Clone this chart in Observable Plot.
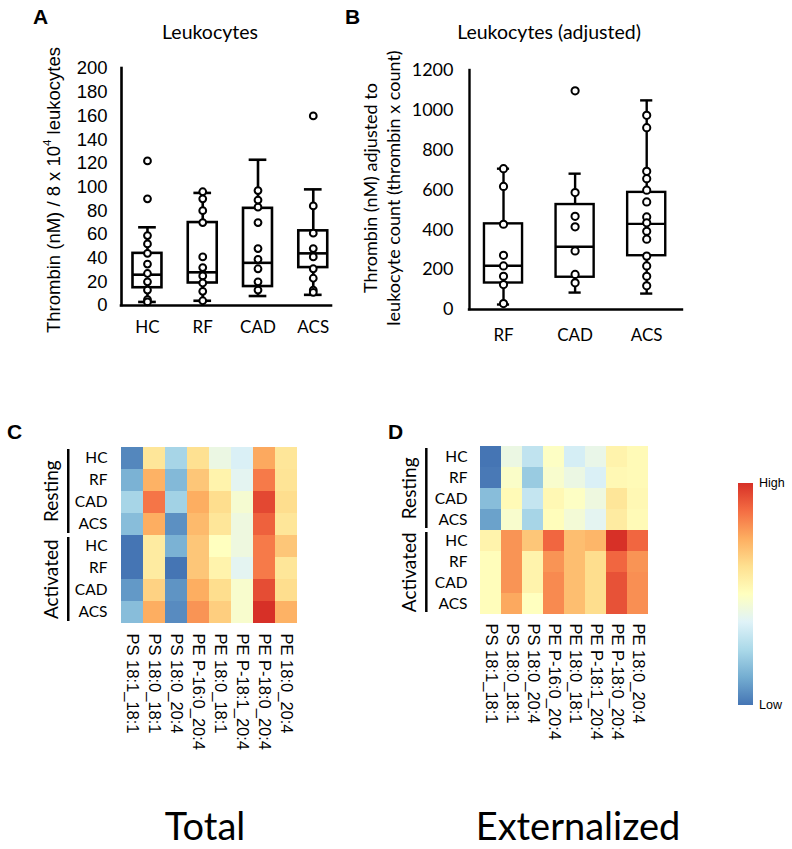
<!DOCTYPE html>
<html>
<head>
<meta charset="utf-8">
<script src="https://cdn.jsdelivr.net/npm/d3@7"></script>
<script src="https://cdn.jsdelivr.net/npm/@observablehq/plot@0.6"></script>
<style>
  html, body { margin: 0; padding: 0; background: #fff; }
  #root { position: relative; width: 792px; height: 849px; overflow: hidden; color: #000; }
  #root > svg, #root > figure { position: absolute; margin: 0; }
</style>
</head>
<body>
<div id="root"></div>
<script>
// ---------------- DATA ----------------
// Panel A: thrombin per leukocytes
const groupsA = ["HC", "RF", "CAD", "ACS"];
const ticksA = [0, 20, 40, 60, 80, 100, 120, 140, 160, 180, 200];
const q1A  = [15, 19, 16, 32];
const medA = [26, 28, 36, 44];
const q3A  = [44, 70, 82, 63];
const loA  = [3, 4, 8, 9];
const hiA  = [66, 95, 123, 98];
const ptsA_HC  = [122, 90, 59, 52, 44, 35, 27, 20, 13, 5, 3];
const ptsA_RF  = [96, 90, 80, 70, 41, 32, 25, 19, 12, 4];
const ptsA_CAD = [97, 89, 83, 70, 48, 39, 31, 20, 13];
const ptsA_ACS = [160, 84, 61, 48, 41, 31, 23, 13, 11];

// Panel B: adjusted
const groupsB = ["RF", "CAD", "ACS"];
const ticksB = [0, 200, 400, 600, 800, 1000, 1200];
const q1B  = [133, 162, 270];
const medB = [220, 315, 430];
const q3B  = [430, 527, 588];
const loB  = [25, 85, 80];
const hiB  = [707, 682, 1050];
const ptsB_RF  = [707, 618, 428, 272, 219, 167, 125, 30];
const ptsB_CAD = [1098, 587, 468, 415, 294, 176, 134];
const ptsB_ACS = [975, 913, 694, 657, 599, 540, 465, 435, 393, 353, 268, 219, 167, 119];

// Heatmaps
const lipids = ["PS 18:1_18:1", "PS 18:0_18:1", "PS 18:0_20:4", "PE P-16:0_20:4",
                "PE 18:0_18:1", "PE P-18:1_20:4", "PE P-18:0_20:4", "PE 18:0_20:4"];
const states = ["Resting", "Activated"];
const subjects = ["HC", "RF", "CAD", "ACS"];
// relative level 0 (low) .. 1 (high), rows: Resting HC,RF,CAD,ACS then Activated HC,RF,CAD,ACS
const totalLevels = [
  [0.04, 0.60, 0.24, 0.62, 0.42, 0.36, 0.76, 0.60],
  [0.14, 0.74, 0.16, 0.69, 0.55, 0.39, 0.85, 0.61],
  [0.24, 0.86, 0.23, 0.75, 0.63, 0.46, 0.95, 0.63],
  [0.17, 0.75, 0.06, 0.72, 0.60, 0.43, 0.90, 0.60],
  [0.00, 0.58, 0.14, 0.69, 0.50, 0.43, 0.85, 0.69],
  [0.00, 0.58, 0.00, 0.69, 0.55, 0.39, 0.85, 0.60],
  [0.08, 0.66, 0.07, 0.75, 0.63, 0.47, 0.94, 0.63],
  [0.17, 0.75, 0.05, 0.80, 0.67, 0.47, 1.00, 0.74]
];
const externalizedLevels = [
  [0.00, 0.42, 0.30, 0.49, 0.35, 0.41, 0.55, 0.52],
  [0.01, 0.48, 0.21, 0.47, 0.42, 0.36, 0.53, 0.52],
  [0.17, 0.52, 0.31, 0.53, 0.49, 0.43, 0.60, 0.53],
  [0.10, 0.47, 0.24, 0.51, 0.45, 0.39, 0.58, 0.52],
  [0.55, 0.80, 0.69, 0.89, 0.71, 0.73, 1.00, 0.89],
  [0.51, 0.80, 0.55, 0.80, 0.71, 0.63, 0.89, 0.80],
  [0.51, 0.80, 0.55, 0.82, 0.71, 0.63, 0.93, 0.81],
  [0.51, 0.76, 0.50, 0.82, 0.71, 0.63, 0.93, 0.81]
];
const heatPalette = ["#4575b4", "#74add1", "#abd9e9", "#e0f3f8", "#ffffbf",
                     "#fee090", "#fdae61", "#f46d43", "#d73027"];

// ---------------- HELPERS ----------------
const root = document.getElementById("root");
const ARIAL = "Liberation Sans, Arial, sans-serif";
const LATO = "Lato, Carlito, sans-serif";

function place(node, left, top) {
  node.style.left = left + "px";
  node.style.top = top + "px";
  root.appendChild(node);
}

function boxChart({cats, q1, med, q3, lo, hi, pts, ticks, yMax, width, height,
                   marginLeft, marginRight, marginTop, marginBottom, xDomain,
                   boxHalf, capHalf, tickFont, tickSize, tickPad, xFont, xPad,
                   lineW, dotR}) {
  const stats = cats.map((c, i) => ({i, q1: q1[i], med: med[i], q3: q3[i], lo: lo[i], hi: hi[i]}));
  const points = pts.flatMap((arr, i) => arr.map(v => ({i, v})));
  return Plot.plot({
    width, height, marginLeft, marginRight, marginTop, marginBottom,
    style: {background: "transparent", color: "#000", overflow: "visible"},
    x: {domain: xDomain, axis: null},
    y: {domain: [0, yMax], axis: null},
    marks: [
      Plot.axisY(ticks, {tickFormat: d => String(d), tickSize: 0, tickPadding: tickPad,
        fontSize: tickSize, fontFamily: tickFont, label: null}),
      Plot.axisX(cats.map((c, i) => i), {tickFormat: i => cats[i], tickSize: 0, tickPadding: xPad,
        fontSize: 17, fontFamily: xFont, label: null}),
      Plot.ruleX(stats, {x: "i", y1: "q3", y2: "hi", strokeWidth: lineW}),
      Plot.ruleX(stats, {x: "i", y1: "lo", y2: "q1", strokeWidth: lineW}),
      Plot.ruleY(stats, {y: "hi", x1: d => d.i - capHalf, x2: d => d.i + capHalf, strokeWidth: lineW}),
      Plot.ruleY(stats, {y: "lo", x1: d => d.i - capHalf, x2: d => d.i + capHalf, strokeWidth: lineW}),
      Plot.rect(stats, {x1: d => d.i - boxHalf, x2: d => d.i + boxHalf, y1: "q1", y2: "q3",
        fill: "none", stroke: "#000", strokeWidth: lineW}),
      Plot.ruleY(stats, {y: "med", x1: d => d.i - boxHalf, x2: d => d.i + boxHalf, strokeWidth: lineW}),
      Plot.dot(points, {x: "i", y: "v", r: dotR, fill: "#fff", stroke: "#000", strokeWidth: 2}),
      Plot.ruleY([0], {strokeWidth: lineW, strokeLinecap: "square"}),
      Plot.ruleX([xDomain[0]], {y1: 0, y2: yMax, strokeWidth: lineW, strokeLinecap: "square"})
    ]
  });
}

const heatInterp = d3.piecewise(d3.interpolateRgb, heatPalette);

function heatmap({levels, width, height, marginLeft, marginRight, marginTop, marginBottom,
                  groupDx, lineDx, labelPad}) {
  const rowKeys = states.flatMap(s => subjects.map(g => s + "|" + g));
  const cells = levels.flatMap((row, r) => row.map((v, c) => ({row: rowKeys[r], lipid: lipids[c], v})));
  const groups = states.map((s, k) => ({
    name: s, mid: rowKeys[k * 4 + 2], first: rowKeys[k * 4], last: rowKeys[k * 4 + 3]
  }));
  const plotH = height - marginTop - marginBottom;
  const half = plotH / rowKeys.length / 2;
  const colW = (width - marginLeft - marginRight) / lipids.length;
  return Plot.plot({
    width, height, marginLeft, marginRight, marginTop, marginBottom,
    style: {background: "transparent", color: "#000", overflow: "visible"},
    x: {domain: lipids, axis: null, padding: 0},
    y: {domain: rowKeys, axis: null, padding: 0},
    color: {type: "linear", domain: [0, 1], interpolate: heatInterp},
    marks: [
      Plot.cell(cells, {x: "lipid", y: "row", fill: "v"}),
      Plot.axisX({tickRotate: 90, tickSize: 0, tickPadding: 8, fontSize: 16.5, fontFamily: ARIAL, label: null}),
      Plot.axisY({tickFormat: k => k.split("|")[1], tickSize: 0, tickPadding: labelPad,
        fontSize: 15.5, fontFamily: LATO, label: null}),
      Plot.text(groups, {x: () => lipids[0], y: "mid", text: "name", dx: groupDx - colW / 2, dy: -half,
        rotate: -90, fontSize: 19, fontFamily: LATO, textAnchor: "middle", lineAnchor: "middle"}),
      Plot.ruleX(groups, {x: () => lipids[0], dx: lineDx - colW / 2, y1: "first", y2: "last",
        strokeWidth: 2.5, insetTop: 2, insetBottom: 2})
    ]
  });
}

// ---------------- PANEL A ----------------
const plotA = boxChart({
  cats: groupsA, q1: q1A, med: medA, q3: q3A, lo: loA, hi: hiA,
  pts: [ptsA_HC, ptsA_RF, ptsA_CAD, ptsA_ACS],
  ticks: ticksA, yMax: 200, width: 400, height: 345,
  marginLeft: 121, marginRight: 69, marginTop: 68, marginBottom: 40,
  xDomain: [-0.47, 3.33], boxHalf: 0.262, capHalf: 0.16,
  tickFont: ARIAL, tickSize: 18.5, tickPad: 14, xFont: LATO, xPad: 15, lineW: 2.6, dotR: 3.4
});
place(plotA, 0, 0);

// ---------------- PANEL B ----------------
const plotB = boxChart({
  cats: groupsB, q1: q1B, med: medB, q3: q3B, lo: loB, hi: hiB,
  pts: [ptsB_RF, ptsB_CAD, ptsB_ACS],
  ticks: ticksB, yMax: 1200, width: 300, height: 350,
  marginLeft: 79, marginRight: 8, marginTop: 70, marginBottom: 41,
  xDomain: [-0.475, 2.5], boxHalf: 0.266, capHalf: 0.085,
  tickFont: LATO, tickSize: 18, tickPad: 16, xFont: LATO, xPad: 19, lineW: 2.4, dotR: 3.6
});
place(plotB, 390, 0);

// ---------------- PANEL C ----------------
const heatC = heatmap({
  levels: totalLevels, width: 310, height: 360,
  marginLeft: 119, marginRight: 11, marginTop: 45, marginBottom: 135,
  groupDx: 50 - 119, lineDx: 66 - 119, labelPad: 12
});
place(heatC, 0, 400);

// ---------------- PANEL D ----------------
const heatD = heatmap({
  levels: externalizedLevels, width: 270, height: 360,
  marginLeft: 88, marginRight: 11, marginTop: 44, marginBottom: 145,
  groupDx: 408 - 478, lineDx: 424 - 478, labelPad: 11
});
place(heatD, 390, 400);

// ---------------- ANNOTATIONS (titles, letters, labels, legend) ----------------
const over = d3.create("svg").attr("width", 792).attr("height", 849)
  .style("pointer-events", "none").style("left", "0px").style("top", "0px");

function txt(x, y, s, {size = 16, family = LATO, weight = "normal", anchor = "middle", rot = 0, baseline = "auto"} = {}) {
  const t = over.append("text")
    .attr("transform", `translate(${x},${y}) rotate(${rot})`)
    .attr("text-anchor", anchor)
    .attr("dominant-baseline", baseline)
    .attr("font-size", size).attr("font-family", family).attr("font-weight", weight)
    .attr("fill", "#000");
  if (typeof s === "string") t.text(s);
  else s(t);
  return t;
}

// panel letters
txt(33, 24, "A", {size: 21, family: ARIAL, weight: "bold", anchor: "start"});
txt(345, 24, "B", {size: 21, family: ARIAL, weight: "bold", anchor: "start"});
txt(7, 439, "C", {size: 21, family: ARIAL, weight: "bold", anchor: "start"});
txt(388, 439, "D", {size: 21, family: ARIAL, weight: "bold", anchor: "start"});

// titles
txt(210, 39, "Leukocytes", {size: 19.5});
txt(549, 39, "Leukocytes (adjusted)", {size: 19.5});

// y labels
txt(55, 190, t => {
  t.append("tspan").text("Thrombin (nM) / 8 x 10");
  t.append("tspan").attr("font-size", 11.5).attr("dy", -7).text("4");
  t.append("tspan").attr("dy", 7).text(" leukocytes");
}, {size: 18.5, family: ARIAL, rot: -90, baseline: "middle"});
txt(372, 188, "Thrombin (nM) adjusted to", {size: 18, rot: -90, baseline: "middle"});
txt(395, 188, "leukocyte count (thrombin x count)", {size: 18, rot: -90, baseline: "middle"});

// bottom captions
txt(205, 840, "Total", {size: 38});
txt(578, 840, "Externalized", {size: 38});

// legend color bar
const grad = over.append("defs").append("linearGradient").attr("id", "heatGrad")
  .attr("x1", 0).attr("y1", 1).attr("x2", 0).attr("y2", 0);
heatPalette.forEach((c, i) => grad.append("stop")
  .attr("offset", i / (heatPalette.length - 1)).attr("stop-color", c));
over.append("rect").attr("x", 738).attr("y", 483).attr("width", 15).attr("height", 222)
  .attr("fill", "url(#heatGrad)");
txt(759, 484, "High", {size: 12.5, family: ARIAL, anchor: "start", baseline: "middle"});
txt(759, 706, "Low", {size: 12.5, family: ARIAL, anchor: "start", baseline: "middle"});

place(over.node(), 0, 0);
</script>
</body>
</html>
